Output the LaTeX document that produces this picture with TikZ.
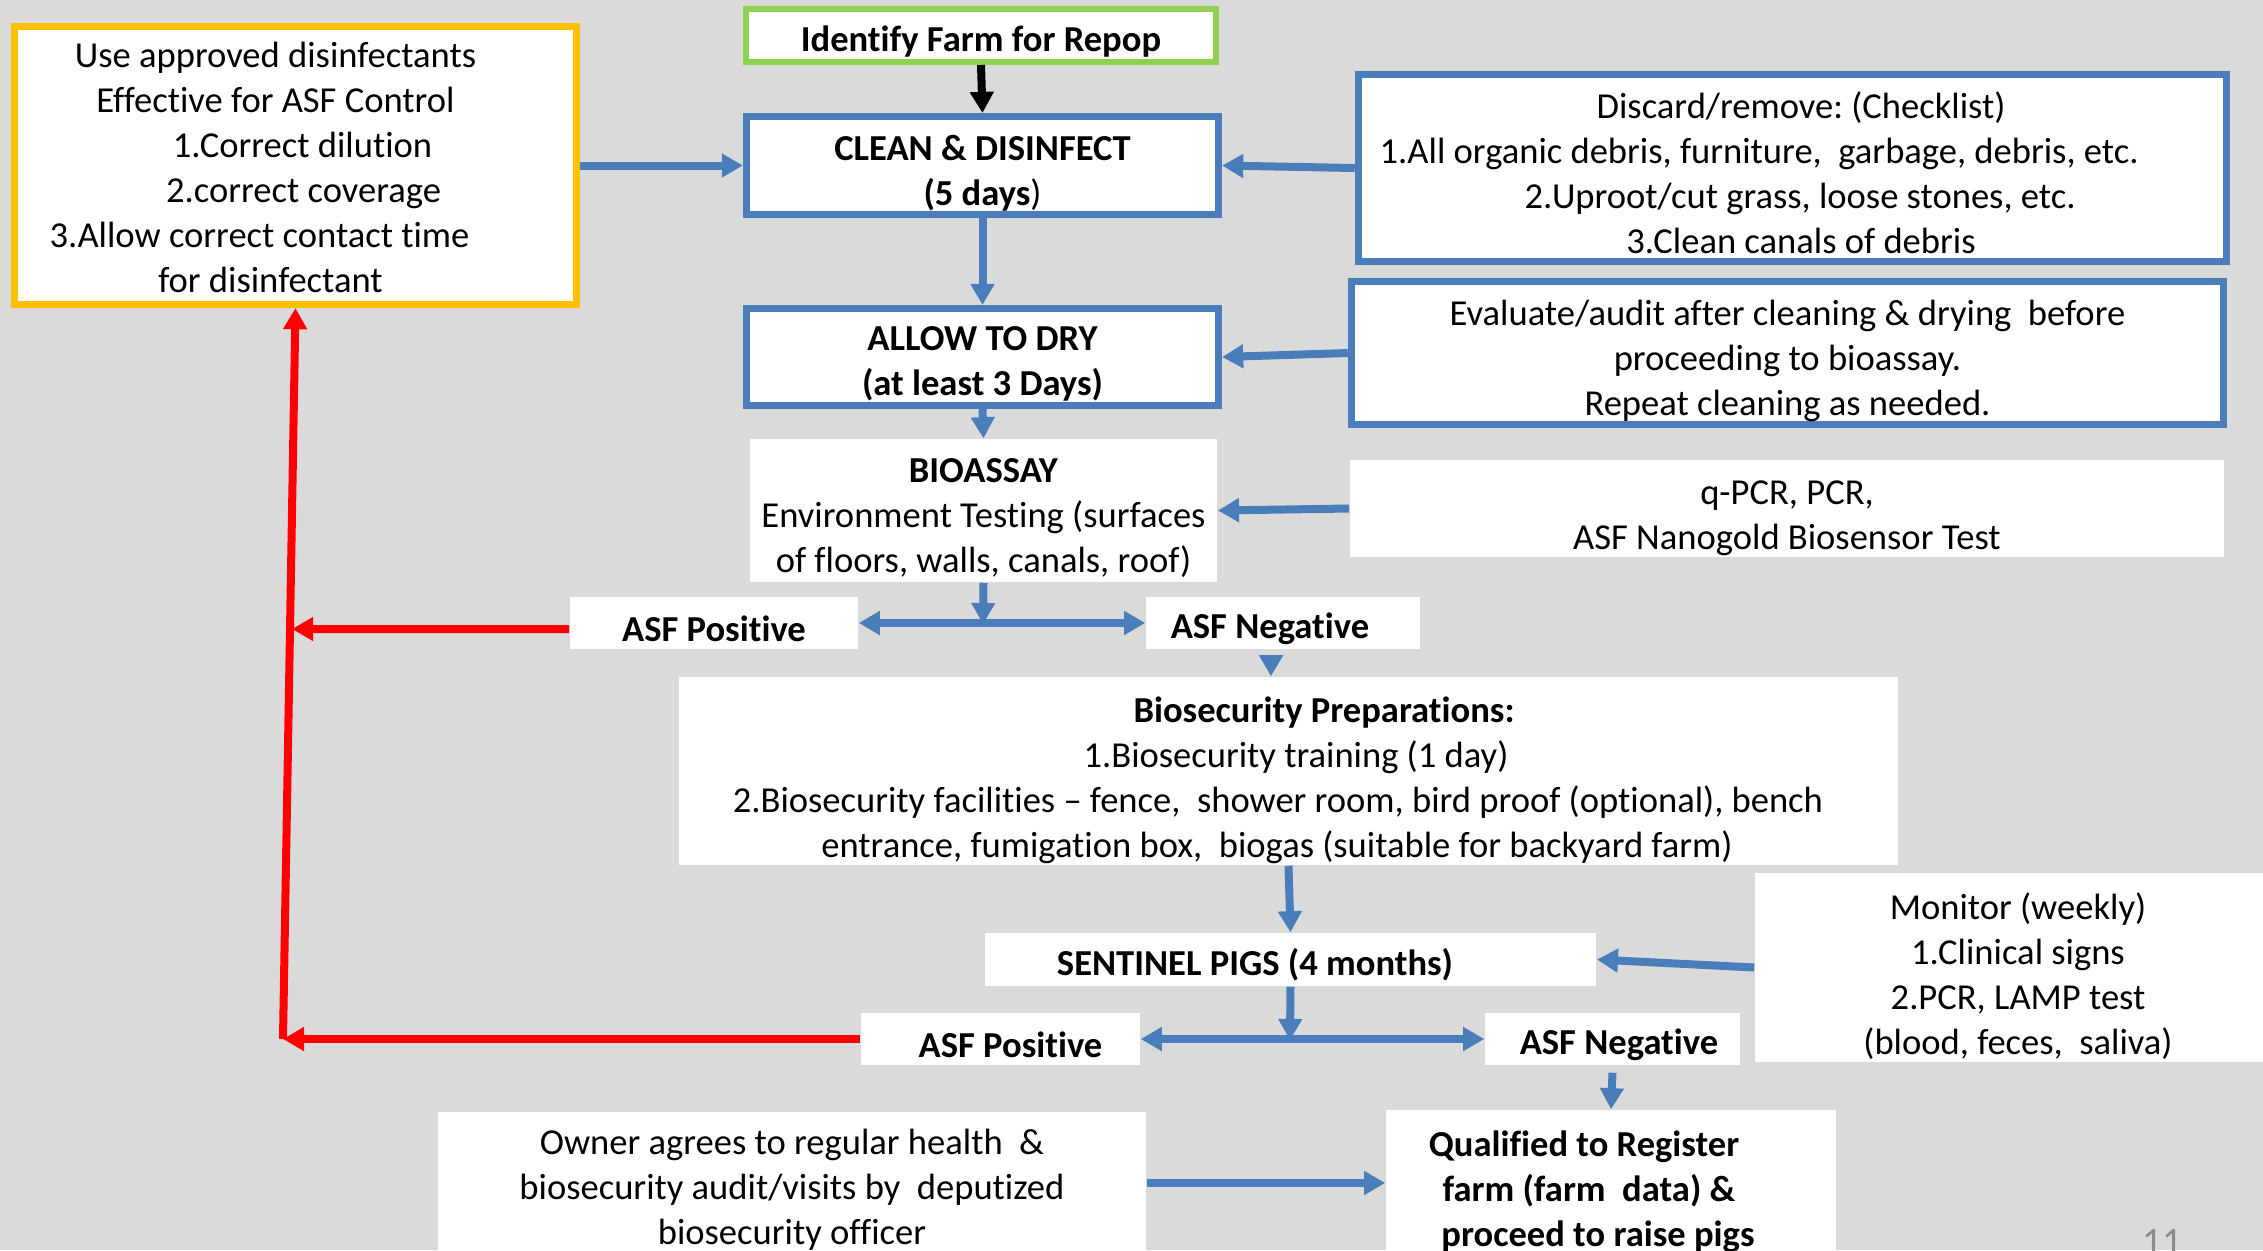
\documentclass[tikz,border=0pt]{standalone}
\usepackage{fontspec}
\setmainfont{Carlito}[Ligatures={TeX,NoCommon}]
\usetikzlibrary{arrows.meta}
\definecolor{repopblue}{RGB}{74,126,187}
\definecolor{repoporange}{RGB}{255,192,0}
\definecolor{repopgreen}{RGB}{146,208,80}
\definecolor{repopred}{RGB}{255,0,0}
\definecolor{slidegrey}{RGB}{218,218,218}
\newcommand{\flowfont}{\fontsize{10.4}{12.8}\selectfont\frenchspacing}
\newcommand{\lift}[1][12pt]{\rule{0pt}{#1}}
\tikzset{
  txt/.style={fill=white, align=center, inner sep=0pt, font=\flowfont, execute at begin node={\lift[10.5pt]}},
  bold/.style={txt, font=\flowfont\bfseries},
  framed/.style={draw=repopblue, line width=0.07cm},
  flow/.style={draw=repopblue, line width=0.08cm, ->},
  twoway/.style={draw=repopblue, line width=0.08cm, <->},
  back/.style={draw=repopred, line width=0.08cm, ->}
}

\begin{document}
\begin{tikzpicture}[x=0.01cm, y=-0.01cm, >={Triangle[width=6.5pt,length=6pt]}]
\fill[slidegrey] (0,0) rectangle (2263,1250);
\useasboundingbox (0,0) rectangle (2263,1250);

\node[txt, draw=repoporange, line width=0.07cm, minimum width=5.62cm, minimum height=2.78cm] (disinf) at (295.5,165.5) {\lift[8.5pt]\hspace*{-0.40cm}Use approved disinfectants\\ \hspace*{-0.40cm}Effective for ASF Control\\ \hspace*{0.14cm}1.Correct dilution\\ \hspace*{0.16cm}2.correct coverage\\ \hspace*{-0.72cm}3.Allow correct contact time\\ \hspace*{-0.50cm}for disinfectant};
\node[bold, draw=repopgreen, line width=0.06cm, minimum width=4.70cm, minimum height=0.53cm] (identify) at (981,35.5) {Identify Farm for Repop};
\node[bold, framed, minimum width=4.72cm, minimum height=0.98cm] (clean) at (982.5,165.5) {\lift[11.5pt]CLEAN \& DISINFECT\\(5 days\textmd{)}};
\node[bold, framed, minimum width=4.72cm, minimum height=0.97cm] (dry) at (982.5,357) {\lift[11pt]ALLOW TO DRY\\(at least 3 Days)};
\node[txt, minimum width=4.67cm, minimum height=1.43cm] (bioassay) at (983.5,510.5) {\lift[11pt]\textbf{BIOASSAY}\\Environment Testing (surfaces\\of floors, walls, canals, roof)};

\node[txt, framed, minimum width=8.68cm, minimum height=1.87cm] (discard) at (1792.5,168) {\lift[10.5pt]\hspace*{0.17cm}Discard/remove: (Checklist)\\ \hspace*{-0.67cm}1.All organic debris, furniture,\ \ garbage, debris, etc.\\ \hspace*{0.15cm}2.Uproot/cut grass, loose stones, etc.\\ \hspace*{0.17cm}3.Clean canals of debris};
\node[txt, framed, minimum width=8.72cm, minimum height=1.43cm] (audit) at (1787.5,353) {\lift Evaluate/audit after cleaning \& drying\ \ before\\proceeding to bioassay.\\Repeat cleaning as needed.};
\node[txt, minimum width=8.74cm, minimum height=0.97cm] (tests) at (1787,508.5) {\lift[12.5pt]q-PCR, PCR,\\ASF Nanogold Biosensor Test};

\node[bold, minimum width=2.88cm, minimum height=0.52cm] (pos1) at (714,623) {ASF Positive};
\node[bold, minimum width=2.74cm, minimum height=0.52cm] (neg1) at (1283,623) {\hspace*{-0.26cm}ASF Negative};
\node[txt, minimum width=12.19cm, minimum height=1.88cm] (prep) at (1288.5,771) {\lift[12.5pt]\hspace*{0.71cm}\textbf{Biosecurity Preparations:}\\ \hspace*{0.15cm}1.Biosecurity training (1 day)\\ \hspace*{-0.21cm}2.Biosecurity facilities – fence,\ \ shower room, bird proof (optional), bench\\ \hspace*{-0.23cm}entrance, fumigation box,\ \ biogas (suitable for backyard farm)};
\node[bold, minimum width=6.11cm, minimum height=0.53cm] (sentinel) at (1290.5,959.5) {\hspace*{-0.71cm}SENTINEL PIGS (4 months)};
\node[txt, minimum width=5.26cm, minimum height=1.89cm] (monitor) at (2018,967.5) {\lift[12.5pt]Monitor (weekly)\\1.Clinical signs\\2.PCR, LAMP test\\(blood, feces,\ \ saliva)};
\node[bold, minimum width=2.79cm, minimum height=0.52cm] (pos2) at (1000.5,1039) {\hspace*{0.2cm}ASF Positive};
\node[bold, minimum width=2.55cm, minimum height=0.52cm] (neg2) at (1612.5,1039) {\hspace*{0.13cm}ASF Negative};
\node[txt, minimum width=7.08cm, minimum height=1.42cm] (owner) at (792,1183) {\lift[11pt]Owner agrees to regular health\ \ \&\\biosecurity audit/visits by\ \ deputized\\biosecurity officer};
\node[bold, minimum width=4.50cm, minimum height=1.46cm] (qualified) at (1611,1183) {\lift\hspace*{-0.54cm}Qualified to Register\\ \hspace*{-0.44cm}farm (farm\ \ data) \&\\ \hspace*{-0.26cm}proceed to raise pigs};
\node[anchor=base, text=black!45, font=\fontsize{11}{13}\selectfont] (pagenum) at (2162,1254) {11};

\coordinate (split1) at (983,624);
\coordinate (split2) at (1290,1040);
\coordinate (redx) at (283,0);
\coordinate (redcorner) at (pos2.west -| redx);
\coordinate (redjoin) at (292,629);

\draw[flow, draw=black] (identify.south) -- (clean.north);
\draw[flow] (disinf.east) -- (clean.west);
\draw[flow] (discard.west) -- (clean.east);
\draw[flow] (clean.south) -- (dry.north);
\draw[flow] (audit.west) -- (dry.east);
\draw[flow] (dry.south) -- (bioassay.north);
\draw[flow] (tests.west) -- (bioassay.east);
\draw[flow] (bioassay.south) -- (split1);
\draw[twoway] (pos1.east) -- (neg1.west);
\draw[flow] ([xshift=-0.12cm, yshift=-0.08cm]neg1.south) -- ([xshift=-0.12cm]neg1.south |- prep.north);
\draw[flow] (prep.south) -- (sentinel.north);
\draw[flow] (monitor.west) -- (sentinel.east);
\draw[flow] (sentinel.south) -- (split2);
\draw[twoway] (pos2.east) -- (neg2.west);
\draw[flow] ([yshift=-0.07cm]neg2.south) -- (qualified.north);
\draw[flow] (owner.east) -- (qualified.west);

\draw[back] ([yshift=-0.06cm]pos1.west) -- (redjoin);
\draw[back] (pos2.west) -- (redcorner);
\draw[back] (redcorner) -- (disinf.south);
\end{tikzpicture}
\end{document}
